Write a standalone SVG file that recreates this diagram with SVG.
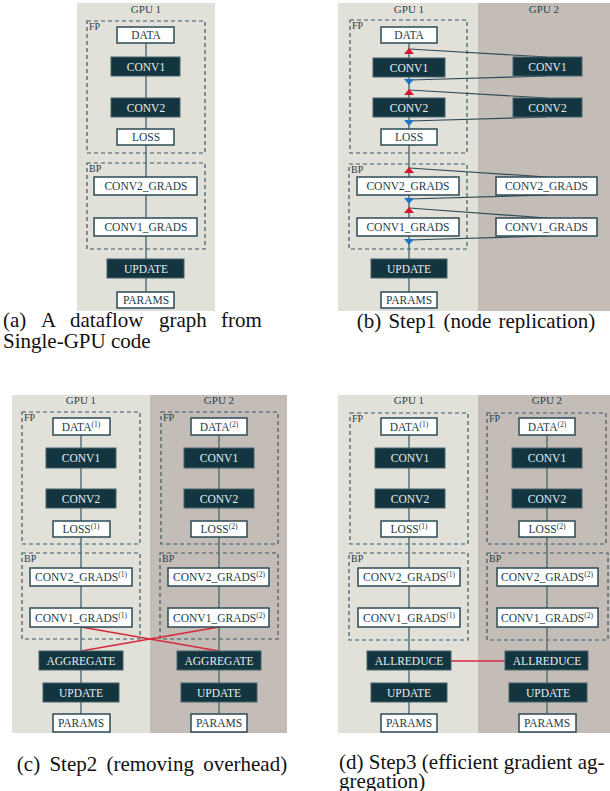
<svg xmlns="http://www.w3.org/2000/svg" width="610" height="791" viewBox="0 0 610 791">
<defs>
<style>
.bg1{fill:#e2e1d9}
.bg2{fill:#c4bcb7}
.grp{fill:none;stroke:#3d5862;stroke-width:1.2;stroke-dasharray:4 3}
.dk{fill:#13353f;stroke:#49646d;stroke-width:1}
.wt{fill:#ffffff;stroke:#2d4a55;stroke-width:1.5}
.t{font-family:"Liberation Serif","DejaVu Serif",serif;font-size:11.5px;text-anchor:middle;fill:#1e3c47}
.tw{fill:#e8eef0}
.lbl{font-family:"Liberation Serif","DejaVu Serif",serif;font-size:10px;fill:#1e3c47}
.gpu{font-family:"Liberation Serif","DejaVu Serif",serif;font-size:11px;text-anchor:middle;fill:#2a4650}
.sup{font-size:7.5px}
.e{stroke:#56707a;stroke-width:1.5;fill:none}
.x{stroke:#2f4d58;stroke-width:1.2;fill:none}
.r{stroke:#d42a3c;stroke-width:1.3;fill:none}
.ru{fill:#d4172e}
.bd{fill:#1f74c4}
.cap{font-family:"Liberation Serif","DejaVu Serif",serif;font-size:21px;fill:#111}
</style>
</defs>

<!-- backgrounds -->
<g id="backgrounds">
<rect class="bg1" x="77" y="3" width="138" height="308"/>
<rect class="bg1" x="338" y="3" width="140" height="308"/>
<rect class="bg2" x="478" y="3" width="132" height="308"/>
<rect class="bg1" x="12" y="395" width="138" height="338"/>
<rect class="bg2" x="150" y="395" width="137" height="338"/>
<rect class="bg1" x="338" y="395" width="140" height="338"/>
<rect class="bg2" x="478" y="395" width="132" height="338"/>
<text class="gpu" x="146" y="13">GPU 1</text>
<text class="gpu" x="409" y="13">GPU 1</text>
<text class="gpu" x="544" y="13">GPU 2</text>
<text class="gpu" x="81" y="404">GPU 1</text>
<text class="gpu" x="219" y="404">GPU 2</text>
<text class="gpu" x="409" y="404">GPU 1</text>
<text class="gpu" x="547" y="404">GPU 2</text>
</g>

<!-- groups (dashed) -->
<g id="groups">
<rect class="grp" x="87" y="21" width="118" height="132"/><text class="lbl" x="89" y="30">FP</text>
<rect class="grp" x="87" y="163" width="118" height="86"/><text class="lbl" x="89" y="172">BP</text>
<rect class="grp" x="350" y="20" width="117" height="133"/><text class="lbl" x="352" y="29">FP</text>
<rect class="grp" x="349" y="164" width="118" height="85"/><text class="lbl" x="351" y="173">BP</text>
<rect class="grp" x="22" y="412" width="118" height="132"/><text class="lbl" x="24" y="421">FP</text>
<rect class="grp" x="22" y="553" width="118" height="86"/><text class="lbl" x="24" y="562">BP</text>
<rect class="grp" x="161" y="412" width="117" height="132"/><text class="lbl" x="163" y="421">FP</text>
<rect class="grp" x="160" y="553" width="118" height="86"/><text class="lbl" x="162" y="562">BP</text>
<rect class="grp" x="350" y="413" width="118" height="131"/><text class="lbl" x="352" y="422">FP</text>
<rect class="grp" x="349" y="553" width="119" height="87"/><text class="lbl" x="351" y="562">BP</text>
<rect class="grp" x="487" y="413" width="119" height="131"/><text class="lbl" x="489" y="422">FP</text>
<rect class="grp" x="487" y="553" width="121" height="87"/><text class="lbl" x="489" y="562">BP</text>
</g>

<!-- connectors -->
<g id="connectors">
<line class="e" x1="146" y1="43" x2="146" y2="292"/>
<line class="e" x1="409" y1="43" x2="409" y2="292"/>
<line class="x" x1="409" y1="49" x2="547" y2="57"/>
<line class="x" x1="547" y1="76" x2="409" y2="80"/>
<line class="x" x1="409" y1="90" x2="547" y2="98"/>
<line class="x" x1="547" y1="117" x2="409" y2="121"/>
<line class="x" x1="409" y1="168" x2="547" y2="177"/>
<line class="x" x1="547" y1="195" x2="409" y2="199"/>
<line class="x" x1="409" y1="208" x2="547" y2="218"/>
<line class="x" x1="547" y1="236" x2="409" y2="240"/>
<polygon class="ru" points="409,48 404,54 414,54"/>
<polygon class="bd" points="404,79 414,79 409,85"/>
<polygon class="ru" points="409,89 404,95 414,95"/>
<polygon class="bd" points="404,120 414,120 409,126"/>
<polygon class="ru" points="409,167 404,173 414,173"/>
<polygon class="bd" points="404,198 414,198 409,204"/>
<polygon class="ru" points="409,207 404,213 414,213"/>
<polygon class="bd" points="404,239 414,239 409,245"/>
<line class="e" x1="81" y1="435" x2="81" y2="714"/>
<line class="e" x1="219" y1="435" x2="219" y2="714"/>
<line class="r" x1="81" y1="627" x2="219" y2="651"/>
<line class="r" x1="219" y1="627" x2="81" y2="651"/>
<line class="e" x1="409" y1="435" x2="409" y2="714"/>
<line class="e" x1="547" y1="435" x2="547" y2="714"/>
<line class="r" x1="451" y1="661" x2="505" y2="661"/>
</g>

<!-- panel a nodes -->
<g id="a-data"><rect class="wt" x="117" y="27" width="57" height="16"/><text class="t" x="146" y="39">DATA</text></g>
<g id="a-conv1"><rect class="dk" x="111" y="57" width="69" height="19"/><text class="t tw" x="146" y="70.5">CONV1</text></g>
<g id="a-conv2"><rect class="dk" x="111" y="98" width="69" height="19"/><text class="t tw" x="146" y="111.5">CONV2</text></g>
<g id="a-loss"><rect class="wt" x="117" y="129" width="57" height="16"/><text class="t" x="146" y="141">LOSS</text></g>
<g id="a-conv2g"><rect class="wt" x="94" y="177" width="103" height="18"/><text class="t" x="146" y="190">CONV2_GRADS</text></g>
<g id="a-conv1g"><rect class="wt" x="94" y="218" width="103" height="18"/><text class="t" x="146" y="231">CONV1_GRADS</text></g>
<g id="a-update"><rect class="dk" x="107" y="259" width="77" height="19"/><text class="t tw" x="146" y="272.5">UPDATE</text></g>
<g id="a-params"><rect class="wt" x="117" y="292" width="57" height="16"/><text class="t" x="146" y="304">PARAMS</text></g>

<!-- panel b nodes -->
<g id="b-data"><rect class="wt" x="381" y="27" width="56" height="16"/><text class="t" x="409" y="39">DATA</text></g>
<g id="b-conv1"><rect class="dk" x="373" y="58" width="72" height="19"/><text class="t tw" x="409" y="71.5">CONV1</text></g>
<g id="b-conv2"><rect class="dk" x="373" y="98" width="72" height="19"/><text class="t tw" x="409" y="111.5">CONV2</text></g>
<g id="b-loss"><rect class="wt" x="381" y="129" width="56" height="16"/><text class="t" x="409" y="141">LOSS</text></g>
<g id="b-conv2g"><rect class="wt" x="357" y="177" width="102" height="18"/><text class="t" x="408" y="190">CONV2_GRADS</text></g>
<g id="b-conv1g"><rect class="wt" x="357" y="218" width="102" height="18"/><text class="t" x="408" y="231">CONV1_GRADS</text></g>
<g id="b-update"><rect class="dk" x="371" y="259" width="76" height="19"/><text class="t tw" x="409" y="272.5">UPDATE</text></g>
<g id="b-params"><rect class="wt" x="381" y="292" width="56" height="16"/><text class="t" x="409" y="304">PARAMS</text></g>
<g id="b2-conv1"><rect class="dk" x="513" y="57" width="69" height="19"/><text class="t tw" x="547.5" y="70.5">CONV1</text></g>
<g id="b2-conv2"><rect class="dk" x="513" y="98" width="69" height="19"/><text class="t tw" x="547.5" y="111.5">CONV2</text></g>
<g id="b2-conv2g"><rect class="wt" x="496" y="177" width="101" height="18"/><text class="t" x="546.5" y="190">CONV2_GRADS</text></g>
<g id="b2-conv1g"><rect class="wt" x="496" y="218" width="101" height="18"/><text class="t" x="546.5" y="231">CONV1_GRADS</text></g>

<!-- panel c nodes -->
<g id="c1-data"><rect class="wt" x="53" y="418" width="57" height="17"/><text class="t" x="81" y="430.5">DATA<tspan class="sup" dy="-4">(1)</tspan></text></g>
<g id="c1-conv1"><rect class="dk" x="46" y="448" width="70" height="20"/><text class="t tw" x="81" y="462">CONV1</text></g>
<g id="c1-conv2"><rect class="dk" x="46" y="489" width="70" height="19"/><text class="t tw" x="81" y="502.5">CONV2</text></g>
<g id="c1-loss"><rect class="wt" x="53" y="521" width="57" height="16"/><text class="t" x="81" y="533">LOSS<tspan class="sup" dy="-4">(1)</tspan></text></g>
<g id="c1-conv2g"><rect class="wt" x="30" y="568" width="102" height="18"/><text class="t" x="81" y="581">CONV2_GRADS<tspan class="sup" dy="-4">(1)</tspan></text></g>
<g id="c1-conv1g"><rect class="wt" x="30" y="608" width="102" height="19"/><text class="t" x="81" y="621.5">CONV1_GRADS<tspan class="sup" dy="-4">(1)</tspan></text></g>
<g id="c1-agg"><rect class="dk" x="39" y="651" width="84" height="19"/><text class="t tw" x="81" y="664.5">AGGREGATE</text></g>
<g id="c1-update"><rect class="dk" x="43" y="683" width="76" height="19"/><text class="t tw" x="81" y="696.5">UPDATE</text></g>
<g id="c1-params"><rect class="wt" x="53" y="714" width="57" height="18"/><text class="t" x="81" y="727">PARAMS</text></g>

<g id="c2-data"><rect class="wt" x="191" y="418" width="56" height="17"/><text class="t" x="219" y="430.5">DATA<tspan class="sup" dy="-4">(2)</tspan></text></g>
<g id="c2-conv1"><rect class="dk" x="184" y="448" width="70" height="20"/><text class="t tw" x="219" y="462">CONV1</text></g>
<g id="c2-conv2"><rect class="dk" x="184" y="489" width="70" height="19"/><text class="t tw" x="219" y="502.5">CONV2</text></g>
<g id="c2-loss"><rect class="wt" x="191" y="521" width="56" height="16"/><text class="t" x="219" y="533">LOSS<tspan class="sup" dy="-4">(2)</tspan></text></g>
<g id="c2-conv2g"><rect class="wt" x="168" y="568" width="101" height="18"/><text class="t" x="219" y="581">CONV2_GRADS<tspan class="sup" dy="-4">(2)</tspan></text></g>
<g id="c2-conv1g"><rect class="wt" x="168" y="608" width="101" height="19"/><text class="t" x="219" y="621.5">CONV1_GRADS<tspan class="sup" dy="-4">(2)</tspan></text></g>
<g id="c2-agg"><rect class="dk" x="177" y="651" width="84" height="19"/><text class="t tw" x="219" y="664.5">AGGREGATE</text></g>
<g id="c2-update"><rect class="dk" x="181" y="683" width="76" height="19"/><text class="t tw" x="219" y="696.5">UPDATE</text></g>
<g id="c2-params"><rect class="wt" x="191" y="714" width="56" height="18"/><text class="t" x="219" y="727">PARAMS</text></g>

<!-- panel d nodes -->
<g id="d1-data"><rect class="wt" x="381" y="418" width="56" height="17"/><text class="t" x="409" y="430.5">DATA<tspan class="sup" dy="-4">(1)</tspan></text></g>
<g id="d1-conv1"><rect class="dk" x="375" y="448" width="70" height="20"/><text class="t tw" x="410" y="462">CONV1</text></g>
<g id="d1-conv2"><rect class="dk" x="375" y="489" width="70" height="19"/><text class="t tw" x="410" y="502.5">CONV2</text></g>
<g id="d1-loss"><rect class="wt" x="381" y="521" width="56" height="16"/><text class="t" x="409" y="533">LOSS<tspan class="sup" dy="-4">(1)</tspan></text></g>
<g id="d1-conv2g"><rect class="wt" x="358" y="568" width="102" height="18"/><text class="t" x="409" y="581">CONV2_GRADS<tspan class="sup" dy="-4">(1)</tspan></text></g>
<g id="d1-conv1g"><rect class="wt" x="358" y="608" width="102" height="19"/><text class="t" x="409" y="621.5">CONV1_GRADS<tspan class="sup" dy="-4">(1)</tspan></text></g>
<g id="d1-allr"><rect class="dk" x="367" y="651" width="84" height="19"/><text class="t tw" x="409" y="664.5">ALLREDUCE</text></g>
<g id="d1-update"><rect class="dk" x="371" y="683" width="76" height="19"/><text class="t tw" x="409" y="696.5">UPDATE</text></g>
<g id="d1-params"><rect class="wt" x="381" y="714" width="56" height="18"/><text class="t" x="409" y="727">PARAMS</text></g>

<g id="d2-data"><rect class="wt" x="519" y="418" width="56" height="17"/><text class="t" x="547" y="430.5">DATA<tspan class="sup" dy="-4">(2)</tspan></text></g>
<g id="d2-conv1"><rect class="dk" x="512" y="448" width="70" height="20"/><text class="t tw" x="547" y="462">CONV1</text></g>
<g id="d2-conv2"><rect class="dk" x="512" y="489" width="70" height="19"/><text class="t tw" x="547" y="502.5">CONV2</text></g>
<g id="d2-loss"><rect class="wt" x="519" y="521" width="56" height="16"/><text class="t" x="547" y="533">LOSS<tspan class="sup" dy="-4">(2)</tspan></text></g>
<g id="d2-conv2g"><rect class="wt" x="497" y="568" width="101" height="18"/><text class="t" x="547" y="581">CONV2_GRADS<tspan class="sup" dy="-4">(2)</tspan></text></g>
<g id="d2-conv1g"><rect class="wt" x="497" y="608" width="101" height="19"/><text class="t" x="547" y="621.5">CONV1_GRADS<tspan class="sup" dy="-4">(2)</tspan></text></g>
<g id="d2-allr"><rect class="dk" x="505" y="651" width="83" height="19"/><text class="t tw" x="547" y="664.5">ALLREDUCE</text></g>
<g id="d2-update"><rect class="dk" x="509" y="683" width="78" height="19"/><text class="t tw" x="548" y="696.5">UPDATE</text></g>
<g id="d2-params"><rect class="wt" x="519" y="714" width="57" height="18"/><text class="t" x="547" y="727">PARAMS</text></g>

<!-- captions -->
<g id="captions">
<text class="cap" y="327"><tspan x="3">(a)</tspan><tspan x="41">A</tspan><tspan x="70">dataflow</tspan><tspan x="159">graph</tspan><tspan x="221">from</tspan></text>
<text class="cap" x="3" y="348">Single-GPU code</text>
<text class="cap" x="476" y="328" text-anchor="middle" word-spacing="2">(b) Step1 (node replication)</text>
<text class="cap" x="152" y="771" text-anchor="middle" word-spacing="4">(c) Step2 (removing overhead)</text>
<text class="cap" x="339" y="769">(d) Step3 (efficient gradient ag-</text>
<text class="cap" x="339" y="788">gregation)</text>
</g>
</svg>
